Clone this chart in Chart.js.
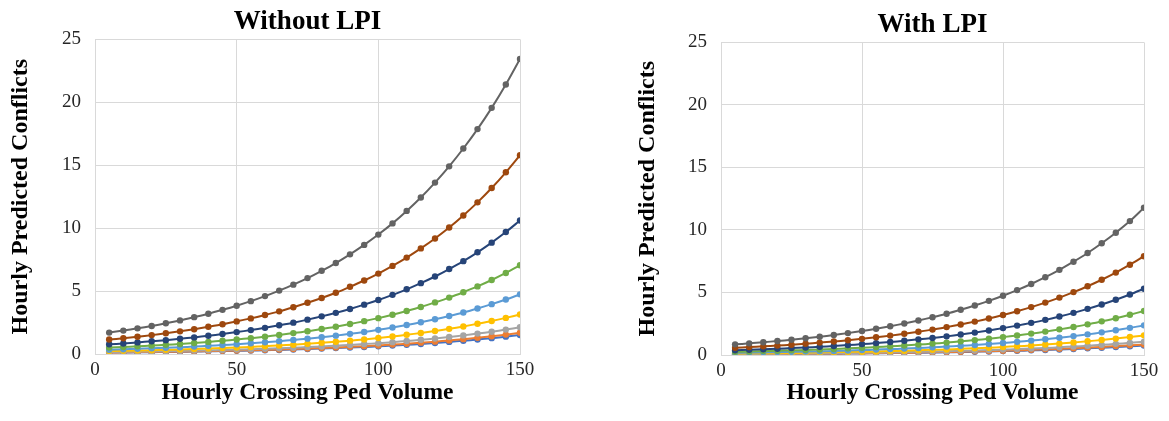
<!DOCTYPE html>
<html>
<head>
<meta charset="utf-8">
<script src="https://cdn.jsdelivr.net/npm/chart.js@4"></script>
<style>
  body { margin: 0; background: #fff; }
  .box { position: absolute; top: 0; height: 421px; }
  #left { left: 0; width: 585px; }
  #right { left: 585px; width: 584px; }
</style>
</head>
<body>
<div class="box" id="left"><canvas id="chartA"></canvas></div>
<div class="box" id="right"><canvas id="chartB"></canvas></div>
<script>
// hourly crossing ped volume
const volume = [5,10,15,20,25,30,35,40,45,50,55,60,65,70,75,80,85,90,95,100,105,110,115,120,125,130,135,140,145,150]

// without LPI
const woDarkGray = [1.70,1.86,2.04,2.23,2.44,2.67,2.93,3.20,3.51,3.84,4.20,4.60,5.04,5.51,6.03,6.61,7.23,7.92,8.67,9.49,10.38,11.37,12.44,13.62,14.91,16.33,17.87,19.56,21.42,23.45]
const woBrown = [1.15,1.25,1.37,1.50,1.65,1.80,1.97,2.16,2.36,2.59,2.83,3.10,3.39,3.72,4.07,4.45,4.87,5.34,5.84,6.39,7.00,7.66,8.39,9.18,10.05,11.01,12.05,13.19,14.44,15.80]
const woDarkBlue = [0.77,0.84,0.92,1.01,1.10,1.21,1.32,1.45,1.59,1.74,1.90,2.08,2.28,2.49,2.73,2.99,3.27,3.58,3.92,4.29,4.70,5.14,5.63,6.16,6.75,7.38,8.08,8.85,9.69,10.61]
const woGreen = [0.51,0.56,0.61,0.67,0.73,0.80,0.88,0.96,1.05,1.15,1.26,1.38,1.51,1.66,1.81,1.99,2.17,2.38,2.61,2.85,3.12,3.42,3.74,4.10,4.48,4.91,5.37,5.88,6.44,7.05]
const woLightBlue = [0.34,0.38,0.41,0.45,0.49,0.54,0.59,0.65,0.71,0.78,0.85,0.93,1.02,1.12,1.22,1.34,1.46,1.60,1.75,1.92,2.10,2.30,2.52,2.76,3.02,3.30,3.62,3.96,4.33,4.74]
const woGold = [0.23,0.25,0.27,0.30,0.33,0.36,0.39,0.43,0.47,0.52,0.56,0.62,0.68,0.74,0.81,0.89,0.97,1.06,1.16,1.27,1.39,1.53,1.67,1.83,2.00,2.19,2.40,2.62,2.87,3.14]
const woGray = [0.15,0.17,0.19,0.20,0.22,0.24,0.27,0.29,0.32,0.35,0.38,0.42,0.46,0.50,0.55,0.60,0.66,0.72,0.79,0.86,0.94,1.03,1.13,1.23,1.35,1.48,1.62,1.77,1.94,2.12]
const woOrange = [0.12,0.13,0.15,0.16,0.18,0.19,0.21,0.23,0.25,0.28,0.30,0.33,0.36,0.40,0.44,0.48,0.52,0.57,0.62,0.68,0.75,0.82,0.90,0.98,1.08,1.18,1.29,1.41,1.54,1.69]
const woBlue = [0.11,0.12,0.13,0.14,0.16,0.17,0.19,0.21,0.23,0.25,0.27,0.30,0.32,0.36,0.39,0.43,0.47,0.51,0.56,0.61,0.67,0.73,0.80,0.88,0.96,1.05,1.15,1.26,1.38,1.51]

// with LPI
const wDarkGray = [0.85,0.93,1.02,1.12,1.22,1.34,1.46,1.60,1.75,1.92,2.10,2.30,2.52,2.76,3.02,3.30,3.62,3.96,4.33,4.74,5.19,5.68,6.22,6.81,7.46,8.16,8.94,9.78,10.71,11.78]
const wBrown = [0.57,0.63,0.69,0.75,0.82,0.90,0.99,1.08,1.18,1.29,1.42,1.55,1.70,1.86,2.03,2.23,2.44,2.67,2.92,3.20,3.50,3.83,4.19,4.59,5.03,5.50,6.02,6.59,7.22,7.90]
const wDarkBlue = [0.38,0.42,0.46,0.50,0.55,0.60,0.66,0.72,0.79,0.87,0.95,1.04,1.14,1.25,1.36,1.49,1.64,1.79,1.96,2.15,2.35,2.57,2.81,3.08,3.37,3.69,4.04,4.42,4.84,5.30]
const wGreen = [0.26,0.28,0.31,0.34,0.37,0.40,0.44,0.48,0.53,0.58,0.63,0.69,0.76,0.83,0.91,0.99,1.09,1.19,1.30,1.43,1.56,1.71,1.87,2.05,2.24,2.45,2.69,2.94,3.22,3.52]
const wLightBlue = [0.17,0.19,0.21,0.23,0.25,0.27,0.30,0.32,0.36,0.39,0.43,0.47,0.51,0.56,0.61,0.67,0.73,0.80,0.88,0.96,1.05,1.15,1.26,1.38,1.51,1.65,1.81,1.98,2.17,2.37]
const wGold = [0.11,0.13,0.14,0.15,0.16,0.18,0.20,0.22,0.24,0.26,0.28,0.31,0.34,0.37,0.41,0.44,0.49,0.53,0.58,0.64,0.70,0.76,0.84,0.91,1.00,1.10,1.20,1.31,1.44,1.57]
const wGray = [0.08,0.08,0.09,0.10,0.11,0.12,0.13,0.15,0.16,0.17,0.19,0.21,0.23,0.25,0.27,0.30,0.33,0.36,0.39,0.43,0.47,0.52,0.56,0.62,0.68,0.74,0.81,0.89,0.97,1.06]
const wOrange = [0.06,0.07,0.07,0.08,0.09,0.10,0.11,0.12,0.13,0.14,0.15,0.17,0.18,0.20,0.22,0.24,0.26,0.29,0.31,0.34,0.37,0.41,0.45,0.49,0.54,0.59,0.64,0.71,0.77,0.84]
const wBlue = [0.06,0.06,0.07,0.07,0.08,0.09,0.09,0.10,0.11,0.12,0.14,0.15,0.16,0.18,0.19,0.21,0.23,0.26,0.28,0.31,0.33,0.37,0.40,0.44,0.48,0.53,0.58,0.63,0.69,0.76]

const xTicks = [0,50,100,150]
const yTicks = [0,5,10,15,20,25]

// top series first so it is drawn on top
const colors = ['#636363','#9E480E','#264478','#70AD47','#5B9BD5','#FFC000','#A5A5A5','#ED7D31','#4472C4']
const seriesA = [woDarkGray,woBrown,woDarkBlue,woGreen,woLightBlue,woGold,woGray,woOrange,woBlue]
const seriesB = [wDarkGray,wBrown,wDarkBlue,wGreen,wLightBlue,wGold,wGray,wOrange,wBlue]

const serif = "'Liberation Serif','Times New Roman',serif"
const gridColor = '#d9d9d9'

const makeChart = (id, title, series, pad) =>{
    const datasets = series.map((vals, i) =>({
        data: vals.map((v, j) => ({x: volume[j], y: v})),
        borderColor: colors[i],
        backgroundColor: colors[i],
        borderWidth: 2,
        pointRadius: 3.2,
        pointBorderWidth: 0,
        tension: 0.3
    }))

    return new Chart(document.getElementById(id), {
        type: 'line',
        data: { datasets },
        options: {
            responsive: true,
            maintainAspectRatio: false,
            animation: false,
            layout: { padding: { left: pad.left, right: pad.right, top: 0, bottom: 0 } },
            plugins: {
                legend: { display: false },
                tooltip: { enabled: false },
                title: {
                    display: true,
                    text: title,
                    fullSize: false,
                    color: '#000',
                    font: { family: serif, size: 27, weight: 'bold' },
                    padding: { top: pad.titleTop, bottom: 1 }
                }
            },
            scales: {
                x: {
                    type: 'linear',
                    min: 0, max: 150,
                    afterBuildTicks: s => { s.ticks = xTicks.map(v => ({value: v})) },
                    afterFit: s => { s.height = pad.xHeight; s.paddingRight = 0 },
                    grid: { color: gridColor, drawTicks: false },
                    border: { color: gridColor },
                    ticks: { color: '#262626', padding: 5, maxRotation: 0, font: { family: serif, size: 19 } },
                    title: {
                        display: true,
                        text: 'Hourly Crossing Ped Volume',
                        color: '#000',
                        font: { family: serif, size: 23.5, weight: 'bold' },
                        padding: { top: 0, bottom: 14 }
                    }
                },
                y: {
                    min: 0, max: 25,
                    afterBuildTicks: s => { s.ticks = yTicks.map(v => ({value: v})) },
                    afterFit: s => { s.width = pad.yWidth },
                    grid: { color: gridColor, drawTicks: false },
                    border: { color: gridColor },
                    ticks: { color: '#262626', padding: 14, font: { family: serif, size: 19 } },
                    title: {
                        display: true,
                        text: 'Hourly Predicted Conflicts',
                        color: '#000',
                        font: { family: serif, size: 24, weight: 'bold' },
                        padding: { top: 1, bottom: 0 }
                    }
                }
            }
        }
    })
}

makeChart('chartA', 'Without LPI', seriesA, { left: 5, right: 65, yWidth: 90, xHeight: 67, titleTop: 6 })
makeChart('chartB', 'With LPI', seriesB, { left: 47, right: 25, yWidth: 89, xHeight: 66, titleTop: 9 })
</script>
</body>
</html>
